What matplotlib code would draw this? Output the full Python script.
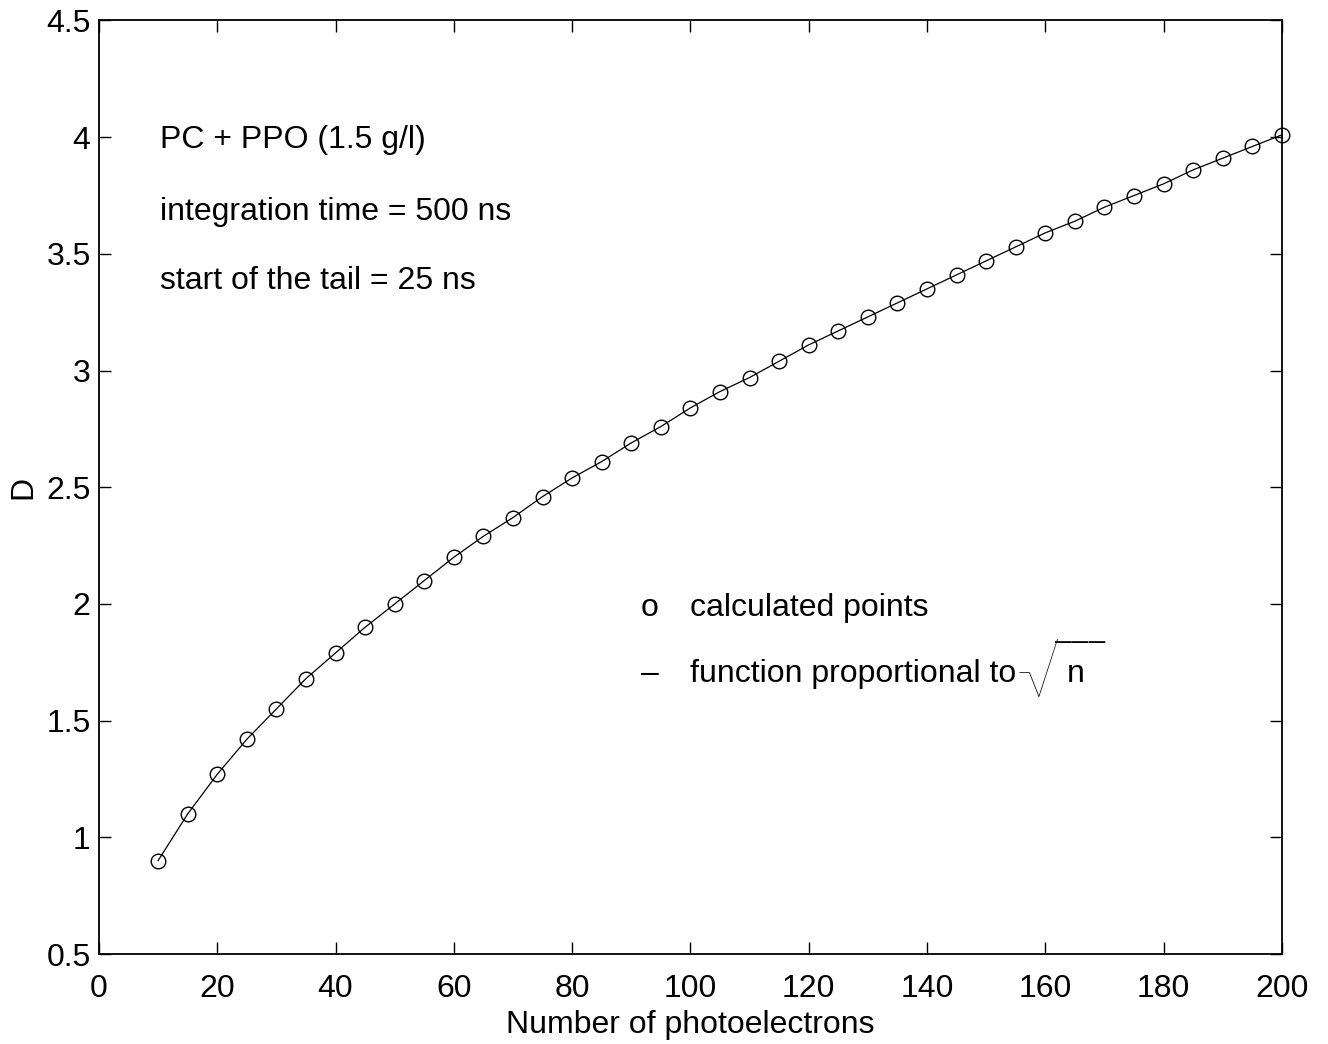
import numpy as np
import matplotlib.pyplot as plt

plt.rcParams['font.family'] = ['Liberation Sans', 'DejaVu Sans']

# number of photoelectrons and the calculated D values
n_pe = [10, 15, 20, 25, 30, 35, 40, 45, 50, 55, 60, 65, 70, 75, 80, 85, 90, 95, 100,
        105, 110, 115, 120, 125, 130, 135, 140, 145, 150, 155, 160, 165, 170, 175,
        180, 185, 190, 195, 200]
d_vals = [0.90, 1.10, 1.27, 1.42, 1.55, 1.68, 1.79, 1.90, 2.00, 2.10, 2.20, 2.29, 2.37,
          2.46, 2.54, 2.61, 2.69, 2.76, 2.84, 2.91, 2.97, 3.04, 3.11, 3.17, 3.23, 3.29,
          3.35, 3.41, 3.47, 3.53, 3.59, 3.64, 3.70, 3.75, 3.80, 3.86, 3.91, 3.96, 4.01]

xticks = np.arange(0, 201, 20)
yticks = np.arange(0.5, 4.51, 0.5)
ytick_labels = ['0.5', '1', '1.5', '2', '2.5', '3', '3.5', '4', '4.5']

fs = 23

fig = plt.figure(figsize=(13.28, 10.44), dpi=100)
ax = fig.add_axes([0.0745, 0.0862, 0.8908, 0.8942])

ax.plot(n_pe, d_vals, color='black', lw=0.9, clip_on=False, zorder=3)
ax.plot(n_pe, d_vals, 'o', mfc='none', mec='black', ms=10.5, mew=1.0,
        clip_on=False, zorder=4)

ax.set_xlim(0, 200)
ax.set_ylim(0.5, 4.5)
ax.set_xticks(xticks)
ax.set_yticks(yticks)
ax.set_yticklabels(ytick_labels)
ax.tick_params(direction='in', length=8.5, width=1.0, labelsize=fs,
               top=True, right=True)
ax.tick_params(axis='x', pad=14.5)
ax.tick_params(axis='y', pad=6)
for sp in ax.spines.values():
    sp.set_linewidth(1.3)

ax.set_xlabel('Number of photoelectrons', fontsize=fs, labelpad=4)
ax.set_ylabel('D', fontsize=fs, labelpad=6)

# description of the setup
ax.text(10.3, 3.954, 'PC + PPO (1.5 g/l)', fontsize=fs, va='baseline')
ax.text(10.3, 3.646, 'integration time = 500 ns', fontsize=fs, va='baseline')
ax.text(10.3, 3.351, 'start of the tail = 25 ns', fontsize=fs, va='baseline')

# hand-made legend
ax.text(93.1, 1.947, 'o', fontsize=fs, va='baseline', ha='center')
ax.text(99.9, 1.947, 'calculated points', fontsize=fs, va='baseline')
ax.text(93.1, 1.667, '\u2013', fontsize=fs, va='baseline', ha='center')
ax.text(99.9, 1.667, 'function proportional to', fontsize=fs, va='baseline')
# thin radical sign with its bar, then the n under it
ax.text(155.1, 1.603, '\u221a', fontsize=48, family=['Lato'], fontweight='light',
        va='baseline')
ax.text(161.6, 1.724, '\u203e\u203e\u203e', fontsize=24, family=['STIXGeneral'],
        va='baseline')
ax.text(163.6, 1.667, 'n', fontsize=fs, va='baseline')

fig.savefig('out.png', dpi=100)
